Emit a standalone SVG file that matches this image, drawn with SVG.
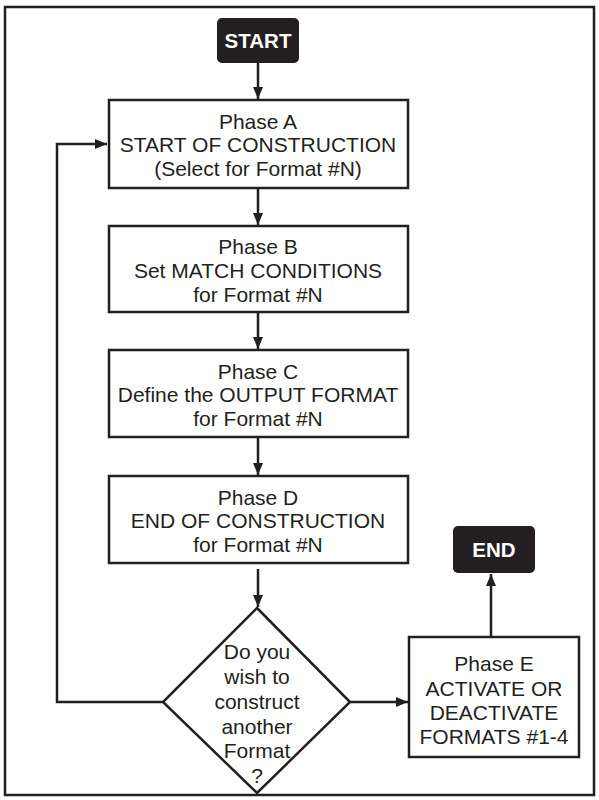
<svg xmlns="http://www.w3.org/2000/svg" width="599" height="800" viewBox="0 0 599 800">
<defs>
<marker id="arr" viewBox="0 0 12 10" refX="12" refY="5" markerWidth="12" markerHeight="10" markerUnits="userSpaceOnUse" orient="auto">
<path d="M0,0 L12,5 L0,10 Z" fill="#231f20"/>
</marker>
<style>
.box{fill:#fff;stroke:#231f20;stroke-width:2.5}
.term{fill:#231f20}
.t{font-family:"Liberation Sans",Arial,sans-serif;font-size:21px;fill:#231f20;text-anchor:middle}
.tw{font-family:"Liberation Sans",Arial,sans-serif;font-size:20.5px;font-weight:bold;fill:#fff;text-anchor:middle}
.ln{fill:none;stroke:#231f20;stroke-width:2.5}
</style>
</defs>
<rect x="5" y="7" width="589" height="788" fill="#fff" stroke="#231f20" stroke-width="2.5"/>
<g id="start">
<rect class="term" x="217" y="18" width="82" height="45" rx="5"/>
<text class="tw" x="258" y="48">START</text>
</g>
<g id="phaseA">
<rect class="box" x="109" y="100" width="299" height="88"/>
<text class="t" x="258" y="129">Phase A</text>
<text class="t" x="258" y="152">START OF CONSTRUCTION</text>
<text class="t" x="258" y="176">(Select for Format #N)</text>
</g>
<g id="phaseB">
<rect class="box" x="109" y="226" width="299" height="86"/>
<text class="t" x="258" y="254">Phase B</text>
<text class="t" x="258" y="278">Set MATCH CONDITIONS</text>
<text class="t" x="258" y="302">for Format #N</text>
</g>
<g id="phaseC">
<rect class="box" x="109" y="350" width="299" height="87"/>
<text class="t" x="258" y="379">Phase C</text>
<text class="t" x="258" y="402">Define the OUTPUT FORMAT</text>
<text class="t" x="258" y="426">for Format #N</text>
</g>
<g id="phaseD">
<rect class="box" x="109" y="476" width="299" height="87"/>
<text class="t" x="258" y="505">Phase D</text>
<text class="t" x="258" y="528">END OF CONSTRUCTION</text>
<text class="t" x="258" y="552">for Format #N</text>
</g>
<g id="decision">
<polygon class="box" points="257,608 350,702 257,793 163,702"/>
<text class="t" x="257" y="659">Do you</text>
<text class="t" x="257" y="684">wish to</text>
<text class="t" x="257" y="709">construct</text>
<text class="t" x="257" y="734">another</text>
<text class="t" x="257" y="758">Format</text>
<text class="t" x="257" y="783">?</text>
</g>
<g id="phaseE">
<rect class="box" x="409" y="637" width="170" height="120"/>
<text class="t" x="494" y="671">Phase E</text>
<text class="t" x="494" y="696">ACTIVATE OR</text>
<text class="t" x="494" y="720">DEACTIVATE</text>
<text class="t" x="494" y="744">FORMATS #1-4</text>
</g>
<g id="end">
<rect class="term" x="453" y="526" width="82" height="47" rx="5"/>
<text class="tw" x="494" y="557">END</text>
</g>
<g id="connectors">
<line class="ln" x1="258" y1="63" x2="258" y2="99" marker-end="url(#arr)"/>
<line class="ln" x1="258" y1="188" x2="258" y2="225" marker-end="url(#arr)"/>
<line class="ln" x1="258" y1="312" x2="258" y2="349" marker-end="url(#arr)"/>
<line class="ln" x1="258" y1="437" x2="258" y2="475" marker-end="url(#arr)"/>
<line class="ln" x1="258" y1="569" x2="258" y2="607" marker-end="url(#arr)"/>
<polyline class="ln" points="163,702 57,702 57,144 107,144" marker-end="url(#arr)"/>
<line class="ln" x1="350" y1="702" x2="408" y2="702" marker-end="url(#arr)"/>
<line class="ln" x1="491" y1="637" x2="491" y2="574" marker-end="url(#arr)"/>
</g>
</svg>
